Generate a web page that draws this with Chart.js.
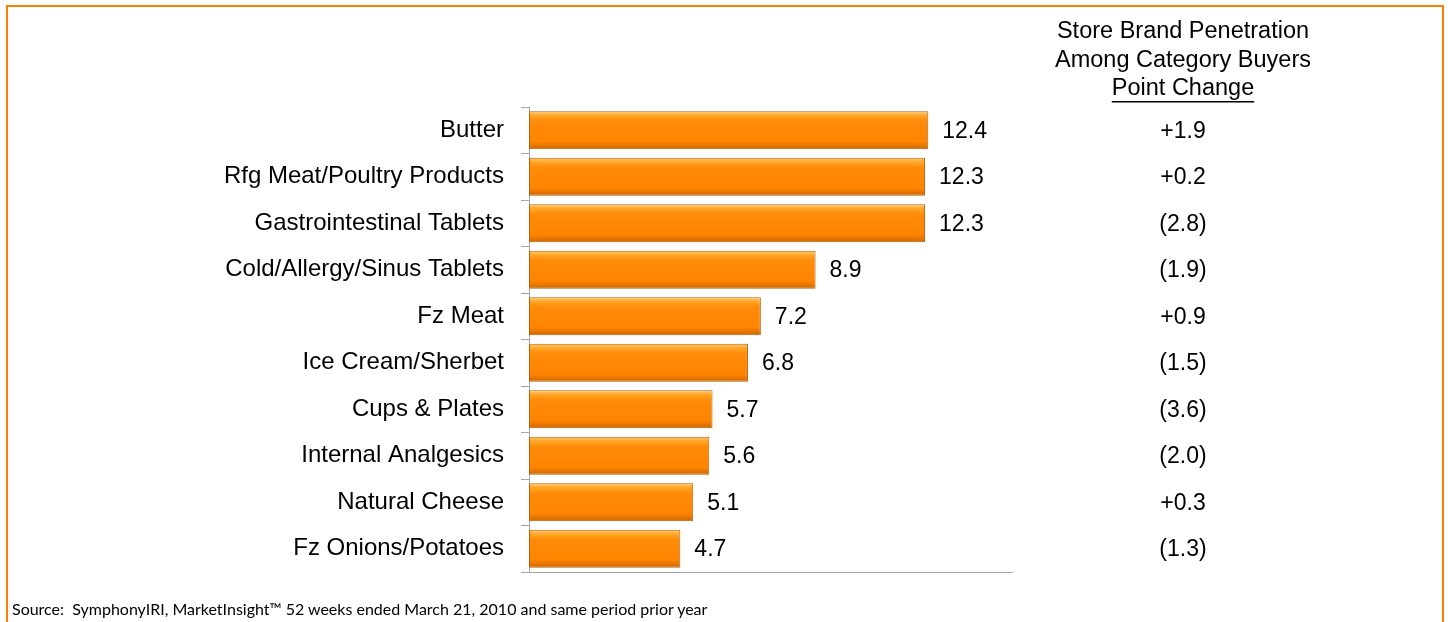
<!DOCTYPE html>
<html>
<head>
<meta charset="utf-8">
<script src="https://cdn.jsdelivr.net/npm/chart.js@4/dist/chart.umd.min.js"></script>
<style>
  html, body { margin: 0; padding: 0; background: #fff; }
  #wrap { position: relative; width: 1448px; height: 622px; overflow: hidden; }
  #frame { position: absolute; left: 6px; top: 5px; width: 1438px; height: 640px; border: 2px solid #FF7F00; box-sizing: border-box; }
  #source { position: absolute; left: 12px; top: 599px; font: 16px Lato, "Open Sans", sans-serif; color: #000; }
  canvas { position: absolute; left: 0; top: 0; }
</style>
</head>
<body>
<div id="wrap">
  <div id="frame"></div>
  <canvas id="barChart" width="1448" height="622"></canvas>
  <div id="source">Source:&nbsp; SymphonyIRI, MarketInsight™ 52 weeks ended March 21, 2010 and same period prior year</div>
</div>
<script>
var categories = ['Butter', 'Rfg Meat/Poultry Products', 'Gastrointestinal Tablets', 'Cold/Allergy/Sinus Tablets',
    'Fz Meat', 'Ice Cream/Sherbet', 'Cups & Plates', 'Internal Analgesics', 'Natural Cheese', 'Fz Onions/Potatoes'];
var penetration = [12.4, 12.3, 12.3, 8.9, 7.2, 6.8, 5.7, 5.6, 5.1, 4.7];
var pointChange = ['+1.9', '+0.2', '(2.8)', '(1.9)', '+0.9', '(1.5)', '(3.6)', '(2.0)', '+0.3', '(1.3)'];
var headerLines = ['Store Brand Penetration', 'Among Category Buyers', 'Point Change'];

var labelFont = '23px "Liberation Sans", Arial, sans-serif';
var headerFont = '23.5px "Liberation Sans", Arial, sans-serif';

// bar fill: vertical gradient with a light top edge, like the bevelled bars
function barFill(c) {
    var chart = c.chart;
    if (!chart.chartArea || c.dataIndex === undefined) return '#FF8C00';
    var y = chart.scales.y.getPixelForValue(c.dataIndex);
    var h = 19;
    var g = chart.ctx.createLinearGradient(0, y - h, 0, y + h);
    g.addColorStop(0, '#FFCC70');
    g.addColorStop(0.12, '#FFA526');
    g.addColorStop(0.25, '#FF8C0A');
    g.addColorStop(0.8, '#FF8400');
    g.addColorStop(1, '#CC6800');
    return g;
}

var extras = {
    id: 'extras',
    afterDatasetsDraw: function (chart) {
        var ctx = chart.ctx;
        var meta = chart.getDatasetMeta(0);
        var ys = chart.scales.y;
        ctx.save();
        ctx.font = labelFont;
        ctx.fillStyle = '#000';
        ctx.textBaseline = 'middle';
        meta.data.forEach(function (bar, i) {
            ctx.textAlign = 'left';
            ctx.fillText(penetration[i].toFixed(1), bar.x + 14, bar.y + 1);
            ctx.textAlign = 'center';
            ctx.fillText(pointChange[i], 1183, ys.getPixelForValue(i) + 1);
        });
        // column header
        ctx.font = headerFont;
        ctx.textAlign = 'center';
        headerLines.forEach(function (t, k) {
            ctx.fillText(t, 1183, 32 + k * 28.5);
        });
        var w = ctx.measureText(headerLines[2]).width;
        ctx.fillRect(1183 - w / 2, 101, w, 1.5);
        ctx.restore();
    }
};

new Chart(document.getElementById('barChart').getContext('2d'), {
    type: 'bar',
    data: {
        labels: categories,
        datasets: [{
            data: penetration,
            backgroundColor: barFill,
            borderColor: '#B5600C',
            borderWidth: 1,
            borderSkipped: false,
            barPercentage: 0.82,
            categoryPercentage: 1.0
        }]
    },
    options: {
        indexAxis: 'y',
        responsive: false,
        animation: false,
        layout: { padding: { top: 107, right: 436, bottom: 42, left: 0 } },
        plugins: { legend: { display: false }, tooltip: { enabled: false } },
        scales: {
            x: {
                min: 0,
                max: 15,
                ticks: { display: false },
                grid: { display: false },
                border: { display: true, color: '#A6A6A6', width: 1 }
            },
            y: {
                offset: true,
                afterFit: function (s) { s.width = 529; },
                ticks: { color: '#000', font: { family: '"Liberation Sans", Arial, sans-serif', size: 24 }, padding: 17 },
                grid: { drawOnChartArea: false, offset: true, tickLength: 8, color: '#A6A6A6' },
                border: { display: true, color: '#A6A6A6', width: 1 }
            }
        }
    },
    plugins: [extras]
});
</script>
</body>
</html>
